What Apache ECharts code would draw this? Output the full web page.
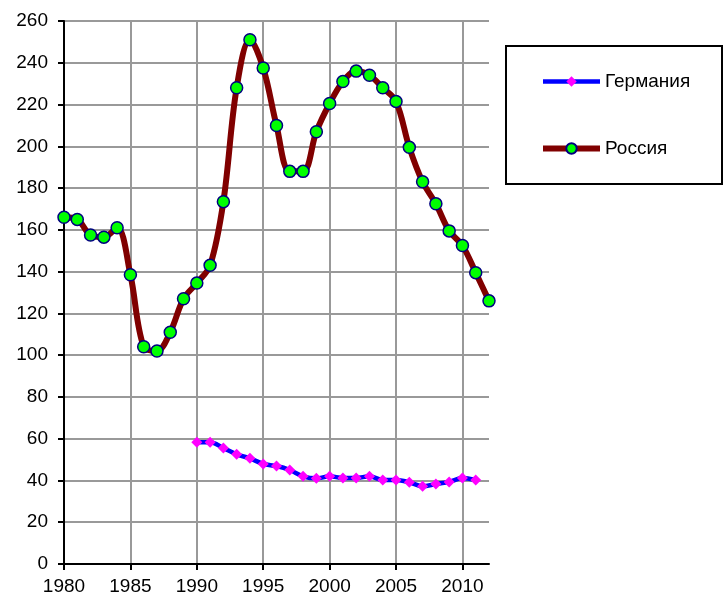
<!DOCTYPE html>
<html><head><meta charset="utf-8">
<script src="https://cdn.jsdelivr.net/npm/echarts@6/dist/echarts.min.js"></script>
<style>html,body{margin:0;padding:0;background:#fff}#c{width:723px;height:602px}</style>
</head><body><div id="c"></div>
<script>
const russiaYears = [1980,1981,1982,1983,1984,1985,1986,1987,1988,1989,1990,1991,1992,1993,1994,1995,1996,1997,1998,1999,2000,2001,2002,2003,2004,2005,2006,2007,2008,2009,2010,2011,2012];
const russiaValues = [166,165,157.5,156.5,161,138.5,104,102,111,127,134.5,143,173.5,228,251,237.5,210,188,188,207,220.5,231,236,234,228,221.5,199.5,183,172.5,159.5,152.5,139.5,126];
const germanyYears = [1990,1991,1992,1993,1994,1995,1996,1997,1998,1999,2000,2001,2002,2003,2004,2005,2006,2007,2008,2009,2010,2011];
const germanyValues = [58.3,58.3,55.5,52.5,50.6,47.9,46.9,45,42,41,42,41.2,41.2,42,40.2,40.2,39.1,37.2,38.3,39.3,41.2,40.2];
const xTickLabels = [1980,1985,1990,1995,2000,2005,2010];
const seriesNames = ['Германия','Россия'];

const chart = echarts.init(document.getElementById('c'));
const font = 'Liberation Sans, Arial, sans-serif';
chart.setOption({
  animation:false,
  textStyle:{fontFamily:font},
  grid:{left:64,right:234,top:21,bottom:38},
  xAxis:{type:'value',min:1980,max:2012,interval:5,
    axisLine:{show:true,onZero:false,lineStyle:{color:'#000',width:2}},
    axisTick:{show:true,inside:false,length:6,customValues:xTickLabels,lineStyle:{color:'#000',width:2}},
    axisLabel:{customValues:xTickLabels,color:'#000',fontSize:19,fontFamily:font,margin:13,
      formatter:v=>String(v)},
    splitLine:{show:true,lineStyle:{color:'#999',width:2}}},
  yAxis:{type:'value',min:0,max:260,interval:20,
    axisLine:{show:true,lineStyle:{color:'#000',width:2}},
    axisTick:{show:true,inside:false,length:6,lineStyle:{color:'#000',width:2}},
    axisLabel:{color:'#000',fontSize:19,fontFamily:font,margin:16},
    splitLine:{show:true,lineStyle:{color:'#999',width:2}}},
  legend:{orient:'vertical',left:535,top:67,itemGap:48,itemWidth:57,itemHeight:13,
    lineStyle:{width:'inherit'},
    textStyle:{fontSize:19,color:'#000',fontFamily:font},
    data:seriesNames},
  graphic:[{type:'rect',shape:{x:506,y:46,width:216,height:138},
    style:{fill:'none',stroke:'#000',lineWidth:2},z:-1}],
  series:[
    {name:seriesNames[0],type:'line',smooth:0.35,
     data:germanyYears.map((y,i)=>[y,germanyValues[i]]),
     lineStyle:{color:'#0000ff',width:4.5},
     symbol:'diamond',symbolSize:11,
     itemStyle:{color:'#ff00ff',borderWidth:0}},
    {name:seriesNames[1],type:'line',smooth:0.35,
     data:russiaYears.map((y,i)=>[y,russiaValues[i]]),
     lineStyle:{color:'#800000',width:6},
     symbol:'circle',symbolSize:12,
     itemStyle:{color:'#00ff00',borderColor:'#000080',borderWidth:1.5}}
  ]
});
</script></body></html>
